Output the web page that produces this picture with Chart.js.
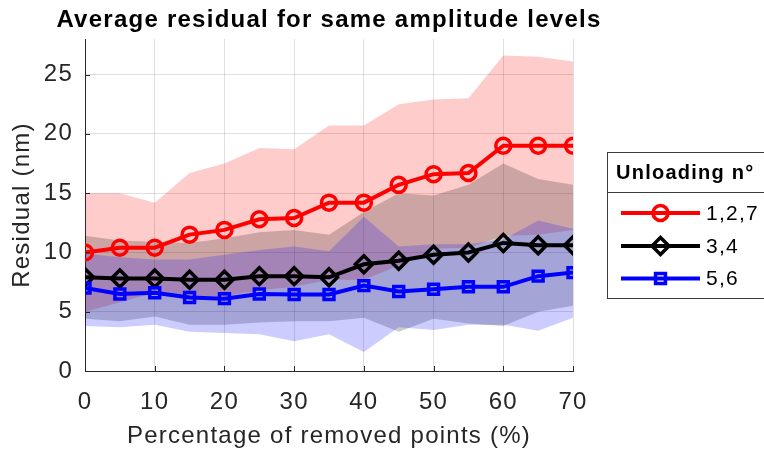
<!DOCTYPE html>
<html>
<head>
<meta charset="utf-8">
<script src="https://cdn.jsdelivr.net/npm/chart.js@4.4.1/dist/chart.umd.min.js"></script>
<style>
  html, body { margin: 0; padding: 0; background: #fff; }
  #wrap { width: 764px; height: 455px; }
</style>
</head>
<body>
<div id="wrap"><canvas id="myChart"></canvas></div>
<script>
    const removed = [0, 5, 10, 15, 20, 25, 30, 35, 40, 45, 50, 55, 60, 65, 70];
    const xTicks = [0, 10, 20, 30, 40, 50, 60, 70];
    const yTicks = [0, 5, 10, 15, 20, 25];

    // average residual (nm) per unloading group
    const res127 = [10.0, 10.4, 10.4, 11.5, 11.9, 12.8, 12.9, 14.2, 14.2, 15.7, 16.6, 16.7, 19.0, 19.0, 19.0];
    const res34  = [7.9, 7.8, 7.8, 7.7, 7.7, 8.0, 8.0, 7.9, 9.0, 9.3, 9.8, 10.0, 10.8, 10.6, 10.6];
    const res56  = [7.0, 6.5, 6.6, 6.2, 6.1, 6.5, 6.45, 6.45, 7.2, 6.7, 6.9, 7.1, 7.1, 8.0, 8.3];

    // shaded spread, upper / lower edge
    const hi127 = [15.0, 15.0, 14.2, 16.7, 17.5, 18.8, 18.7, 20.7, 20.7, 22.5, 22.9, 23.0, 26.6, 26.5, 26.1];
    const lo127 = [5.0, 5.8, 6.6, 6.3, 6.3, 6.8, 7.1, 7.7, 7.7, 8.9, 10.3, 10.4, 11.4, 11.5, 11.9];
    const hi34  = [11.4, 11.0, 10.9, 10.8, 11.2, 11.7, 11.9, 11.5, 13.4, 15.0, 14.8, 15.7, 17.5, 16.2, 15.7];
    const lo34  = [4.4, 4.2, 4.6, 3.9, 3.9, 4.1, 4.2, 4.2, 4.5, 3.3, 4.4, 4.0, 3.8, 5.0, 5.5];
    const hi56  = [9.9, 9.6, 9.4, 9.4, 9.8, 10.2, 10.5, 10.1, 13.0, 10.5, 10.7, 10.7, 11.1, 12.7, 12.0];
    const lo56  = [3.8, 3.7, 3.9, 3.3, 3.2, 3.1, 2.5, 3.1, 1.6, 3.7, 3.45, 3.9, 3.9, 3.4, 4.5];

    const groups = ['1,2,7', '3,4', '5,6'];
    const chartTitle = 'Average residual for same amplitude levels';

    const FONT = "'Liberation Sans', Arial, Helvetica, sans-serif";
    const AXIS = '#262626';
    const SPACING = '1.25px';

    const pts = ys => removed.map((x, i) => ({x: x, y: ys[i]}));

    const band = (ys, color, fill, order) => ({
        data: pts(ys),
        fill: fill,
        backgroundColor: color,
        borderWidth: 0,
        pointRadius: 0,
        pointHoverRadius: 0,
        order: order
    });

    const line = (label, ys, color, style, radius, order) => ({
        label: label,
        data: pts(ys),
        fill: false,
        borderColor: color,
        borderWidth: 4,
        tension: 0,
        pointStyle: style,
        pointRadius: radius,
        pointHoverRadius: radius,
        pointBorderWidth: 3.5,
        pointBorderColor: color,
        pointBackgroundColor: 'rgba(0,0,0,0)',
        order: order
    });

    const data = {
        datasets: [
            band(hi127, 'rgba(255,0,0,0.2)', '+1', 12),
            band(lo127, 'rgba(255,0,0,0.2)', false, 12),
            band(hi34, 'rgba(0,0,0,0.2)', '+1', 11),
            band(lo34, 'rgba(0,0,0,0.2)', false, 11),
            band(hi56, 'rgba(0,0,255,0.2)', '+1', 10),
            band(lo56, 'rgba(0,0,255,0.2)', false, 10),
            line(groups[0], res127, '#ff0000', 'circle', 7.5, 3),
            line(groups[1], res34, '#000000', 'rectRot', 8.5, 2),
            line(groups[2], res56, '#0000ff', 'rect', 7, 1)
        ]
    };

    // wider text spacing, closer to the original export
    const spacing = {
        id: 'spacing',
        beforeDraw(chart) {
            chart.ctx.letterSpacing = SPACING;
        }
    };

    // inward tick marks like the original axes
    const innerTicks = {
        id: 'innerTicks',
        afterDatasetsDraw(chart) {
            const {ctx, chartArea: {left, bottom}, scales: {x, y}} = chart;
            ctx.save();
            ctx.strokeStyle = AXIS;
            ctx.lineWidth = 1;
            ctx.beginPath();
            yTicks.forEach(v => {
                const py = Math.round(y.getPixelForValue(v)) + 0.5;
                ctx.moveTo(left, py);
                ctx.lineTo(left + 5, py);
            });
            xTicks.forEach(v => {
                const px = Math.round(x.getPixelForValue(v)) + 0.5;
                ctx.moveTo(px, bottom);
                ctx.lineTo(px, bottom - 5);
            });
            ctx.stroke();
            ctx.restore();
        }
    };

    // title over the plot area (not squeezed to its width) + boxed legend
    const boxLegend = {
        id: 'boxLegend',
        afterDraw(chart) {
            const {ctx, chartArea} = chart;
            ctx.save();
            ctx.letterSpacing = SPACING;
            ctx.fillStyle = '#000000';
            ctx.font = 'bold 24px ' + FONT;
            ctx.textAlign = 'center';
            ctx.textBaseline = 'alphabetic';
            ctx.fillText(chartTitle, (chartArea.left + chartArea.right) / 2, 27);

            const left = 607.5, top = 152.5, sep = 192.5, bottom = 298.5;
            ctx.fillStyle = '#ffffff';
            ctx.fillRect(left, top, 200, bottom - top);
            ctx.strokeStyle = '#3a3a3a';
            ctx.lineWidth = 1;
            ctx.strokeRect(left, top, 200, bottom - top);
            ctx.beginPath();
            ctx.moveTo(left, sep);
            ctx.lineTo(left + 200, sep);
            ctx.stroke();

            ctx.fillStyle = '#000000';
            ctx.font = 'bold 20px ' + FONT;
            ctx.textBaseline = 'middle';
            ctx.textAlign = 'left';
            ctx.fillText('Unloading n\u00b0', 616, 173);

            const rows = [213, 246, 278.5];
            [6, 7, 8].forEach((di, i) => {
                const ds = chart.data.datasets[di];
                const yy = rows[i];
                ctx.strokeStyle = ds.borderColor;
                ctx.lineWidth = ds.borderWidth;
                ctx.beginPath();
                ctx.moveTo(621, yy);
                ctx.lineTo(700, yy);
                ctx.stroke();
                ctx.lineWidth = ds.pointBorderWidth;
                ctx.fillStyle = 'rgba(0,0,0,0)';
                Chart.helpers.drawPoint(ctx, {
                    pointStyle: ds.pointStyle,
                    radius: ds.pointRadius,
                    borderWidth: ds.pointBorderWidth,
                    rotation: 0
                }, 660.5, yy);
                ctx.fillStyle = '#000000';
                ctx.font = '21px ' + FONT;
                ctx.fillText(ds.label, 706, yy + 1);
            });
            ctx.restore();
        }
    };

    const config = {
        type: 'line',
        data,
        options: {
            responsive: true,
            maintainAspectRatio: false,
            animation: false,
            events: [],
            layout: { padding: { left: 0, right: 191, top: 39, bottom: 0 } },
            plugins: {
                legend: { display: false },
                tooltip: { enabled: false },
                title: { display: false },
                filler: { drawTime: 'beforeDatasetsDraw' }
            },
            scales: {
                x: {
                    type: 'linear',
                    min: 0,
                    max: 70,
                    afterBuildTicks: scale => { scale.ticks = xTicks.map(v => ({value: v})); },
                    afterFit: scale => { scale.height = 84; },
                    grid: { color: 'rgba(38,38,38,0.15)', drawTicks: false },
                    border: { display: true, color: AXIS, width: 1 },
                    ticks: { color: AXIS, padding: 16.5, maxRotation: 0, font: { family: FONT, size: 24 } },
                    title: {
                        display: true,
                        text: 'Percentage of removed points (%)',
                        color: AXIS,
                        font: { family: FONT, size: 24 },
                        padding: { top: 0, bottom: 4 }
                    }
                },
                y: {
                    type: 'linear',
                    min: 0,
                    max: 28,
                    afterBuildTicks: scale => { scale.ticks = yTicks.map(v => ({value: v})); },
                    afterFit: scale => { scale.width = 85; },
                    grid: { color: 'rgba(38,38,38,0.15)', drawTicks: false },
                    border: { display: true, color: AXIS, width: 1 },
                    ticks: { color: AXIS, padding: 12, font: { family: FONT, size: 24 } },
                    title: {
                        display: true,
                        text: 'Residual (nm)',
                        color: AXIS,
                        font: { family: FONT, size: 24 },
                        padding: { top: 7.5, bottom: 0 }
                    }
                }
            }
        },
        plugins: [spacing, innerTicks, boxLegend]
    };

    const myChart = new Chart(
        document.getElementById('myChart'),
        config
    );
</script>
</body>
</html>
